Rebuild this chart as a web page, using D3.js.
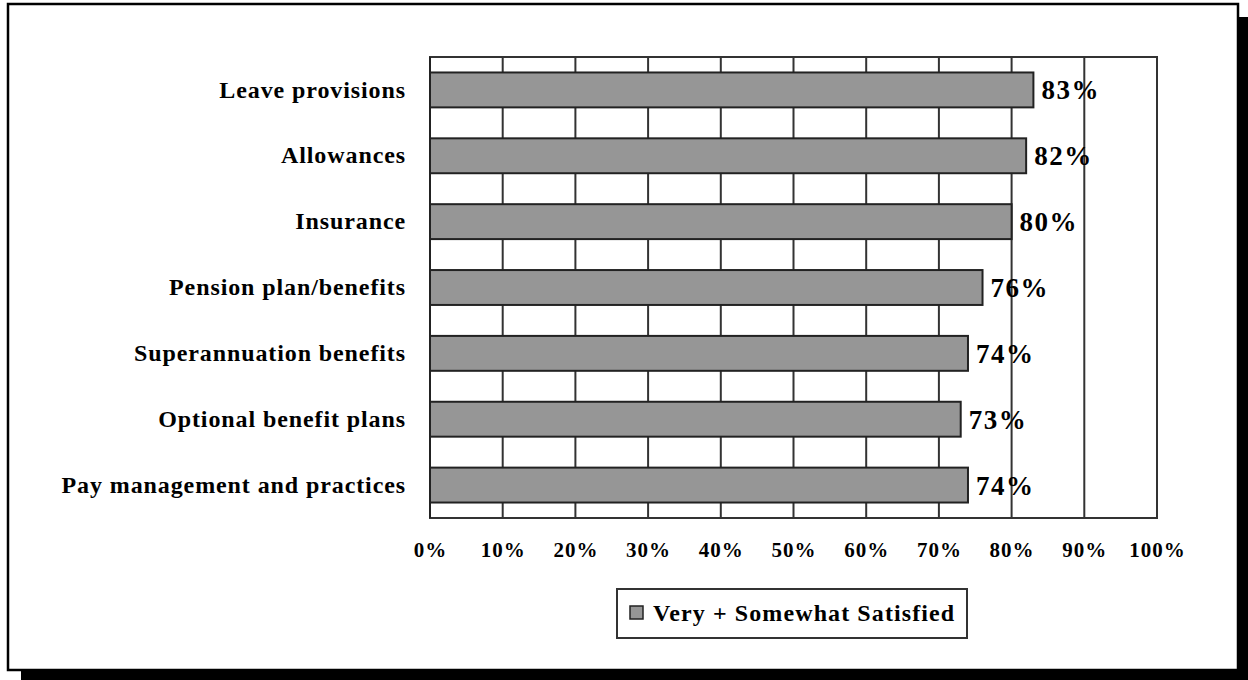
<!DOCTYPE html>
<html>
<head>
<meta charset="utf-8">
<script src="https://cdn.jsdelivr.net/npm/d3@7"></script>
<style>
  html, body { margin: 0; padding: 0; background: #fff; }
  svg { display: block; }
  text { font-family: "Liberation Serif", "Times New Roman", serif; font-weight: bold; fill: #000; }
</style>
</head>
<body>
<svg id="chart" width="1248" height="680"></svg>
<script>
// Satisfaction with compensation and benefits
const categories = [
  "Leave provisions",
  "Allowances",
  "Insurance",
  "Pension plan/benefits",
  "Superannuation benefits",
  "Optional benefit plans",
  "Pay management and practices"
];
const satisfied = [83, 82, 80, 76, 74, 73, 74];
const tickValues = [0, 10, 20, 30, 40, 50, 60, 70, 80, 90, 100];
const seriesName = "Very + Somewhat Satisfied";

const svg = d3.select("#chart");

// Framed panel with a drop shadow
svg.append("rect").attr("x", 21).attr("y", 17).attr("width", 1240).attr("height", 680).attr("fill", "#000");
svg.append("rect").attr("x", 8).attr("y", 4).attr("width", 1230).attr("height", 666)
  .attr("fill", "#fff").attr("stroke", "#000").attr("stroke-width", 2.5);

const plot = { left: 430, right: 1157, top: 57, bottom: 518 };

const x = d3.scaleLinear().domain([0, 100]).range([plot.left, plot.right]);
const y = d3.scaleBand().domain(categories).range([plot.top, plot.bottom])
  .paddingInner(0.47).paddingOuter(0.235);

// Plot frame and vertical gridlines
svg.append("rect")
  .attr("x", plot.left).attr("y", plot.top)
  .attr("width", plot.right - plot.left).attr("height", plot.bottom - plot.top)
  .attr("fill", "#fff").attr("stroke", "#333").attr("stroke-width", 2);

svg.append("g").selectAll("line").data(tickValues.slice(1, -1)).join("line")
  .attr("x1", d => x(d)).attr("x2", d => x(d))
  .attr("y1", plot.top).attr("y2", plot.bottom)
  .attr("stroke", "#333").attr("stroke-width", 2);

// Bars
const data = categories.map((c, i) => ({ cat: c, v: satisfied[i] }));
svg.append("g").selectAll("rect").data(data).join("rect")
  .attr("x", x(0)).attr("y", d => y(d.cat))
  .attr("width", d => x(d.v) - x(0)).attr("height", y.bandwidth())
  .attr("fill", "#969696").attr("stroke", "#222").attr("stroke-width", 2);

// Left axis line
svg.append("line").attr("x1", plot.left).attr("x2", plot.left)
  .attr("y1", plot.top).attr("y2", plot.bottom)
  .attr("stroke", "#222").attr("stroke-width", 2);

// Value labels
svg.append("g").selectAll("text").data(data).join("text")
  .attr("x", d => x(d.v) + 8).attr("y", d => y(d.cat) + y.bandwidth() / 2)
  .attr("dy", "0.35em").style("font-size", "27px").style("letter-spacing", "1.5px")
  .text(d => d.v + "%");

// Category axis
const yAxis = svg.append("g").attr("transform", `translate(${plot.left},0)`)
  .call(d3.axisLeft(y).tickSize(0).tickPadding(24));
yAxis.select(".domain").remove();
yAxis.selectAll("text").style("font-size", "24px").style("letter-spacing", "0.9px")
  .attr("font-family", null).attr("fill", null);

// Percentage axis
const xAxis = svg.append("g").attr("transform", `translate(0,${plot.bottom})`)
  .call(d3.axisBottom(x).tickValues(tickValues).tickSize(0).tickPadding(24)
    .tickFormat(d => d + "%"));
xAxis.select(".domain").remove();
xAxis.selectAll("text").style("font-size", "21px").style("letter-spacing", "1px")
  .attr("font-family", null).attr("fill", null);

// Legend
const legend = svg.append("g");
legend.append("rect").attr("x", 617).attr("y", 589).attr("width", 350).attr("height", 49)
  .attr("fill", "#fff").attr("stroke", "#333").attr("stroke-width", 2);
legend.append("rect").attr("x", 630).attr("y", 606).attr("width", 13).attr("height", 13)
  .attr("fill", "#969696").attr("stroke", "#222").attr("stroke-width", 1.5);
legend.append("text").attr("x", 653).attr("y", 613).attr("dy", "0.35em")
  .style("font-size", "24px").style("letter-spacing", "1.1px").text(seriesName);
</script>
</body>
</html>
